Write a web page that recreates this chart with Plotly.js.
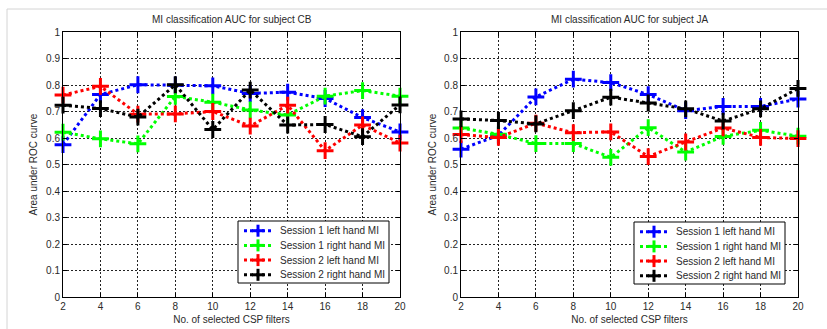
<!DOCTYPE html>
<html>
<head>
<meta charset="utf-8">
<script src="https://cdn.plot.ly/plotly-3.0.1.min.js"></script>
<style>html,body{margin:0;padding:0;background:#fff;}#chart{width:827px;height:329px;}</style>
</head>
<body>
<div id="chart"></div>
<script>
// Number of selected CSP filters
const filters = [2, 4, 6, 8, 10, 12, 14, 16, 18, 20];

// Subject CB
const cbS1Left  = [0.575, 0.764, 0.801, 0.799, 0.797, 0.768, 0.773, 0.749, 0.677, 0.623];
const cbS1Right = [0.622, 0.597, 0.578, 0.757, 0.735, 0.706, 0.687, 0.758, 0.779, 0.758];
const cbS2Left  = [0.762, 0.795, 0.690, 0.691, 0.700, 0.645, 0.724, 0.552, 0.649, 0.581];
const cbS2Right = [0.724, 0.711, 0.679, 0.801, 0.632, 0.781, 0.649, 0.651, 0.605, 0.725];

// Subject JA
const jaS1Left  = [0.558, 0.610, 0.755, 0.822, 0.809, 0.764, 0.703, 0.719, 0.719, 0.747];
const jaS1Right = [0.638, 0.614, 0.579, 0.579, 0.527, 0.639, 0.547, 0.606, 0.629, 0.607];
const jaS2Left  = [0.613, 0.602, 0.656, 0.620, 0.623, 0.530, 0.585, 0.638, 0.602, 0.598];
const jaS2Right = [0.672, 0.666, 0.653, 0.703, 0.754, 0.732, 0.710, 0.664, 0.710, 0.787];

const seriesNames = ["Session 1 left hand MI", "Session 1 right hand MI", "Session 2 left hand MI", "Session 2 right hand MI"];
const seriesColors = ["#0000ff", "#00ff00", "#ff0000", "#000000"];
const titles = ["MI classification AUC for subject CB", "MI classification AUC for subject JA"];
const xLabel = "No. of selected CSP filters";
const yLabel = "Area under ROC curve";

const FONT = "Liberation Sans, Arial, sans-serif";
const TXT = "#2a2a2a";

const cbData = [cbS1Left, cbS1Right, cbS2Left, cbS2Right];
const jaData = [jaS1Left, jaS1Right, jaS2Left, jaS2Right];

function mk(ys, i, xa, ya) {
  return {
    x: filters, y: ys, type: "scatter", mode: "lines+markers",
    name: seriesNames[i], xaxis: xa, yaxis: ya, showlegend: false,
    cliponaxis: false,
    line: {color: seriesColors[i], width: 3, dash: "dot"},
    marker: {symbol: "cross-thin-open", size: 12, color: seriesColors[i],
             line: {color: seriesColors[i], width: 3}}
  };
}
const traces = [];
cbData.forEach((d, i) => traces.push(mk(d, i, "x", "y")));
jaData.forEach((d, i) => traces.push(mk(d, i, "x2", "y2")));

const W = 827, H = 329;
const px = v => v / W;          // pixel x -> paper
const py = v => 1 - v / H;      // pixel y -> paper
const yDom = [py(297), py(32)];
function xax(dom) {
  return {
    domain: dom, range: [2, 20], dtick: 2, tick0: 2,
    showline: true, linecolor: "#000", linewidth: 1, mirror: "ticks",
    ticks: "inside", ticklen: 4, tickcolor: "#000",
    showgrid: true, gridcolor: "#222", gridwidth: 1, griddash: "2px,2px",
    zeroline: false,
    tickfont: {family: FONT, size: 10, color: TXT},
    title: {text: xLabel, font: {family: FONT, size: 10, color: TXT}, standoff: 4}
  };
}
function yax(anchor) {
  return {
    domain: yDom, range: [0, 1], dtick: 0.1, tick0: 0, anchor: anchor,
    showline: true, linecolor: "#000", linewidth: 1, mirror: "ticks",
    ticks: "inside", ticklen: 4, tickcolor: "#000",
    showgrid: true, gridcolor: "#222", gridwidth: 1, griddash: "2px,2px",
    zeroline: false,
    tickfont: {family: FONT, size: 10, color: TXT}
  };
}

const annotations = [
  {text: titles[0], xref: "paper", yref: "paper", x: px((63 + 400) / 2), y: py(19.5),
   xanchor: "center", yanchor: "middle", showarrow: false, font: {family: FONT, size: 10, color: TXT}},
  {text: titles[1], xref: "paper", yref: "paper", x: px((461 + 798) / 2), y: py(19.5),
   xanchor: "center", yanchor: "middle", showarrow: false, font: {family: FONT, size: 10, color: TXT}},
  {text: yLabel, xref: "paper", yref: "paper", x: px(33), y: py(164.5), textangle: -90,
   xanchor: "center", yanchor: "middle", showarrow: false, font: {family: FONT, size: 10, color: TXT}},
  {text: yLabel, xref: "paper", yref: "paper", x: px(432), y: py(164.5), textangle: -90,
   xanchor: "center", yanchor: "middle", showarrow: false, font: {family: FONT, size: 10, color: TXT}}
];
const shapes = [
  {type: "line", xref: "paper", yref: "paper", x0: px(7), x1: px(7), y0: 0, y1: py(9), line: {color: "#d4d4d4", width: 1}},
  {type: "line", xref: "paper", yref: "paper", x0: px(7), x1: 1, y0: py(9), y1: py(9), line: {color: "#d4d4d4", width: 1}}
];

// Legend boxes (drawn as layout decorations, one per panel)
const legendBoxes = [{left: 238, top: 221}, {left: 634, top: 222}];
const LEG_W = 151, LEG_H = 62, ROW0 = 9.7, ROW_STEP = 14.7;
legendBoxes.forEach(b => {
  shapes.push({type: "rect", xref: "paper", yref: "paper",
    x0: px(b.left), x1: px(b.left + LEG_W), y0: py(b.top + LEG_H), y1: py(b.top),
    fillcolor: "#ffffff", line: {color: "#000", width: 1}, layer: "above"});
  seriesNames.forEach((name, i) => {
    const yc = b.top + ROW0 + i * ROW_STEP;
    const c = seriesColors[i];
    const xs0 = b.left + 6, xs1 = b.left + 34, xm = (xs0 + xs1) / 2;
    shapes.push({type: "line", xref: "paper", yref: "paper", layer: "above",
      x0: px(xs0), x1: px(xs1), y0: py(yc), y1: py(yc), line: {color: c, width: 3, dash: "dot"}});
    shapes.push({type: "line", xref: "paper", yref: "paper", layer: "above",
      x0: px(xm - 6), x1: px(xm + 6), y0: py(yc), y1: py(yc), line: {color: c, width: 3}});
    shapes.push({type: "line", xref: "paper", yref: "paper", layer: "above",
      x0: px(xm), x1: px(xm), y0: py(yc - 6), y1: py(yc + 6), line: {color: c, width: 3}});
    annotations.push({text: name, xref: "paper", yref: "paper", x: px(b.left + 40), y: py(yc),
      xanchor: "left", yanchor: "middle", showarrow: false,
      font: {family: FONT, size: 10, color: TXT}});
  });
});

const layout = {
  width: W, height: H,
  margin: {l: 0, r: 0, t: 0, b: 0},
  paper_bgcolor: "#ffffff", plot_bgcolor: "#ffffff",
  showlegend: false,
  xaxis: xax([px(63), px(400)]),
  yaxis: yax("x"),
  xaxis2: Object.assign(xax([px(461), px(798)]), {anchor: "y2"}),
  yaxis2: yax("x2"),
  annotations: annotations,
  shapes: shapes
};

Plotly.newPlot("chart", traces, layout, {displayModeBar: false, staticPlot: true});
</script>
</body>
</html>
